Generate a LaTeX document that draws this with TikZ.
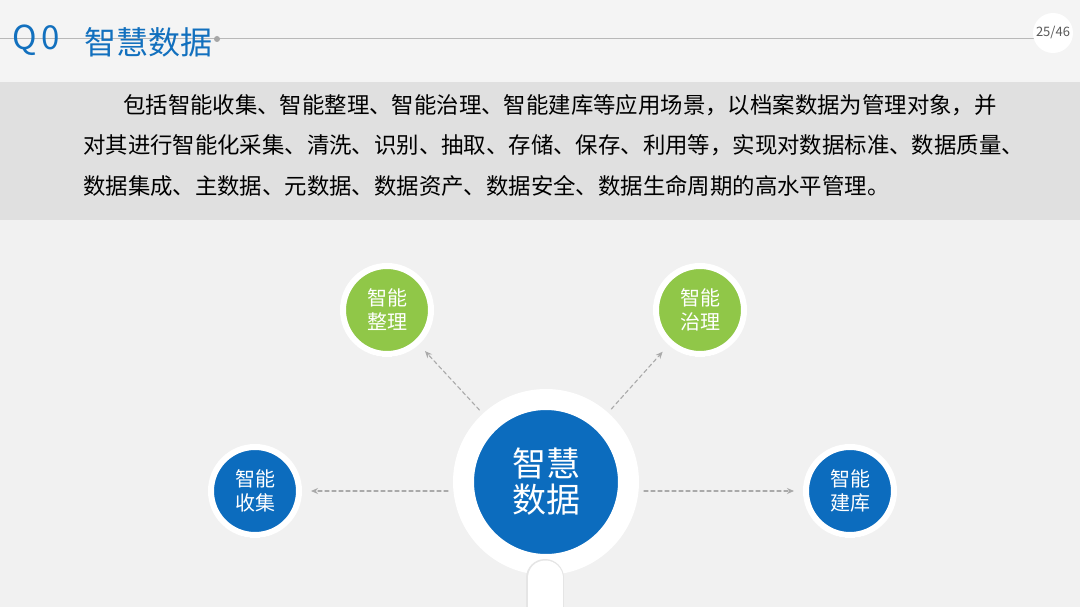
\documentclass[tikz,border=0pt]{standalone}
\usepackage{fontspec}
\setmainfont{Noto Sans CJK SC}
\usetikzlibrary{shadows,arrows.meta}
\definecolor{pageback}{RGB}{241,241,241}
\definecolor{topback}{RGB}{244,244,244}
\definecolor{bandgray}{RGB}{224,224,224}
\definecolor{titleblue}{RGB}{18,112,190}
\definecolor{hubblue}{RGB}{12,108,190}
\definecolor{leafgreen}{RGB}{144,199,72}
\definecolor{linkgray}{RGB}{170,170,170}
\tikzset{
  fsize/.style 2 args={font=\fontsize{#1}{#2}\selectfont},
  hub/.style={circle,fill=hubblue,draw=white,line width=21pt,minimum size=165pt,
    inner sep=0pt,outer sep=10.5pt,text=white,align=center,fsize={34}{36},
    drop shadow={shadow xshift=0pt,shadow yshift=-1pt,shadow scale=1.015,fill=black,opacity=.16}},
  leaf/.style={circle,fill=#1,draw=white,line width=6pt,minimum size=88pt,
    inner sep=0pt,outer sep=3pt,text=white,align=center,fsize={20}{24},
    drop shadow={shadow xshift=0pt,shadow yshift=-1pt,shadow scale=1.04,fill=black,opacity=.16}},
  bodyline/.style={anchor=west,inner sep=0pt,text=black,fsize={22.4}{24}},
  link/.style={draw=linkgray,line width=1.1pt,dash pattern=on 4pt off 3pt,
    -{Stealth[length=7pt,width=6pt]},shorten >=9pt,shorten <=5pt}
}
\begin{document}
\begin{tikzpicture}[x=1pt,y=-1pt,line cap=round,line join=round]
  \useasboundingbox (0,0) rectangle (1080,607);
  \fill[pageback] (0,0) rectangle (1080,607);
  \fill[topback] (0,0) rectangle (1080,82);
  \fill[bandgray] (0,82) rectangle (1080,220);
  % header
  \draw[black!28,line width=1pt] (0,39) -- (1040,39);
  \fill[black!35] (217,39) circle[radius=3];
  \node[circle,fill=white,minimum size=40pt,inner sep=0pt,text=black!65,fsize={13}{15}] (page) at (1053,33) {25/46};
  \node[anchor=west,inner sep=0pt,text=titleblue,fsize={33}{35}] (qnum) at (12,40) {Q\hspace{5pt}0};
  \node[anchor=west,inner sep=0pt,text=titleblue,fsize={32}{34}] (title) at (84,42) {智慧数据};
  % text band
  \node[bodyline] (line1) at (123,105) {包括智能收集、智能整理、智能治理、智能建库等应用场景，以档案数据为管理对象，并};
  \node[bodyline] (line2) at (83,145) {对其进行智能化采集、清洗、识别、抽取、存储、保存、利用等，实现对数据标准、数据质量、};
  \node[bodyline] (line3) at (83,186) {数据集成、主数据、元数据、数据资产、数据安全、数据生命周期的高水平管理。};
  % diagram
  \node[leaf=leafgreen] (sort) at (387,310) {智能\\整理};
  \node[leaf=leafgreen] (govern) at (700,310) {智能\\治理};
  \node[leaf=hubblue] (collect) at (255,491) {智能\\收集};
  \node[leaf=hubblue] (build) at (850,491) {智能\\建库};
  \node[hub] (hub) at (546,482) {智慧\\数据};
  \draw[black!10,line width=38pt,line cap=round] (545,578) -- (545,640);
  \draw[white,line width=35pt,line cap=round] (545,578) -- (545,640);
  \draw[link] (hub) -- (sort);
  \draw[link] (hub) -- (govern);
  \draw[link] (hub.west |- collect) -- (collect);
  \draw[link] (hub.east |- build) -- (build);
\end{tikzpicture}
\end{document}
